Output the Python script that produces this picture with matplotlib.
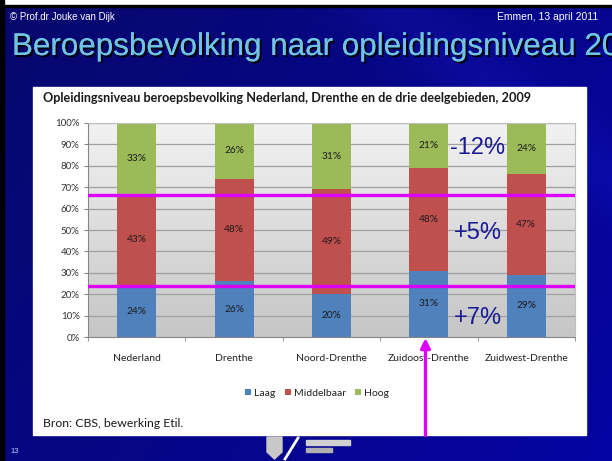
import numpy as np
import matplotlib
matplotlib.use("Agg")
import matplotlib.pyplot as plt
from matplotlib.colors import LinearSegmentedColormap, to_rgb
from matplotlib.patches import Rectangle, Polygon
import matplotlib.patheffects as pe

# ---- data ----
categories = ["Nederland", "Drenthe", "Noord-Drenthe", "Zuidoost-Drenthe", "Zuidwest-Drenthe"]
laag = [24, 26, 20, 31, 29]
middelbaar = [43, 48, 49, 48, 47]
hoog = [33, 26, 31, 21, 24]
series_names = ["Laag", "Middelbaar", "Hoog"]
yticks = list(range(0, 101, 10))
ref_lines = [66.5, 24]
annotations = [("-12%", 88.3), ("+5%", 48.6), ("+7%", 8.9)]

W, H = 612, 461
fig = plt.figure(figsize=(W / 100, H / 100), dpi=100)

# ---- slide background (pixel coordinates) ----
bg = fig.add_axes([0, 0, 1, 1])
bg.set_xlim(0, W)
bg.set_ylim(H, 0)
bg.set_axis_off()
yy, xx = np.mgrid[0:H, 0:W]
c1 = np.array(to_rgb("#08086c"))
c2 = np.array(to_rgb("#0404a4"))
t = np.clip(0.65 * xx / W + 0.35 * yy / H, 0, 1)
streak = 0.06 * np.exp(-((xx - yy * 1.3 - 380) / 60.0) ** 2)
img = c1[None, None, :] * (1 - t[..., None]) + c2[None, None, :] * t[..., None]
img = np.clip(img + streak[..., None] * np.array([0.3, 0.3, 1.0]), 0, 1)
bg.imshow(img, extent=(0, W, H, 0), aspect="auto", zorder=0)
bg.add_patch(Rectangle((0, 0), W, 5, color="white", zorder=1))
bg.add_patch(Rectangle((0, 5), W, 2, color="black", zorder=1))
bg.add_patch(Rectangle((0, 0), 4, H, color="black", zorder=1))
bg.add_patch(Rectangle((33, 87), 553, 348, color="white", zorder=1))

bg.text(10, 20, "© Prof.dr Jouke van Dijk", color="white", fontsize=7,
        family="Liberation Sans", va="baseline", ha="left", zorder=2)
bg.text(598, 20, "Emmen, 13 april 2011", color="white", fontsize=7.5,
        family="Liberation Sans", va="baseline", ha="right", zorder=2)
bg.text(12, 55, "Beroepsbevolking naar opleidingsniveau 2009", color="#70c4e2",
        fontsize=22.6, family="Liberation Sans", va="baseline", ha="left", zorder=2,
        path_effects=[pe.withSimplePatchShadow(offset=(1.5, -1.5), shadow_rgbFace="black", alpha=0.9),
                      pe.Normal()])
bg.text(10, 451, "13", color="#c8c8ff", fontsize=5.5, family="Liberation Sans",
        va="center", ha="left", zorder=2)
bg.text(43, 98, "Opleidingsniveau beroepsbevolking Nederland, Drenthe en de drie deelgebieden, 2009",
        color="#1a1a1a", fontsize=9.1, family="Lato", weight="bold", va="center", ha="left", zorder=2)
bg.text(43, 423, "Bron: CBS, bewerking Etil.", color="#1a1a1a", fontsize=8.8,
        family="Lato", va="center", ha="left", zorder=2)
# logo (approximate)
bg.add_patch(Polygon([(267, 437), (282, 437), (282, 452), (274.5, 459), (267, 452)],
                     closed=True, color="#c8c8c8", zorder=2))
bg.plot([285, 298], [459, 438], color="white", lw=2, zorder=2)
bg.add_patch(Rectangle((306, 440), 44, 5, color="#d0d0d0", zorder=2))
bg.add_patch(Rectangle((306, 448), 26, 4, color="#b0b0b0", zorder=2))

# ---- chart ----
ax = fig.add_axes([88 / W, 1 - 337 / H, 487 / W, 214 / H])
ax.set_xlim(-0.5, len(categories) - 0.5)
ax.set_ylim(0, 100)
grad = np.linspace(0, 1, 256)[:, None]
gcmap = LinearSegmentedColormap.from_list("g", ["#c6c6c6", "#f2f2f2"])
ax.imshow(grad, extent=(-0.5, len(categories) - 0.5, 0, 100), origin="lower",
          aspect="auto", cmap=gcmap, zorder=0)
for v in yticks[1:]:
    ax.axhline(v, color="#a0a0a0", lw=0.9, zorder=1)

x = np.arange(len(categories))
colors = ["#4f81bd", "#c0504d", "#9bbb59"]
bottom = np.zeros(len(categories))
handles = []
for name, vals, col in zip(series_names, [laag, middelbaar, hoog], colors):
    vals = np.array(vals, dtype=float)
    b = ax.bar(x, vals, 0.40, bottom=bottom, color=col, zorder=2, label=name)
    handles.append(b)
    for xi, v, bt in zip(x, vals, bottom):
        ax.text(xi, bt + v / 2, f"{int(v)}%", ha="center", va="center", fontsize=7.3,
                family="Lato", color="#1a1a1a", zorder=3)
    bottom += vals

for v in ref_lines:
    ax.axhline(v, color="#dd00ff", lw=2.4, zorder=4)

for txt, yv in annotations:
    ax.text(3.5, yv, txt, ha="center", va="center", fontsize=17,
            family="Liberation Sans", color="#1a1a96", zorder=5)

ax.annotate("", xy=(3 - 0.035, -0.5), xycoords="data",
            xytext=(3 - 0.035, -0.46), textcoords=("data", "axes fraction"),
            arrowprops=dict(arrowstyle="-|>", color="#dd00ff", lw=2.4, mutation_scale=14,
                            shrinkA=0, shrinkB=0),
            annotation_clip=False, zorder=6)

ax.set_yticks(yticks)
ax.set_yticklabels([f"{v}%" for v in yticks], family="Lato", fontsize=7, color="#333333")
ax.set_xticks(x)
ax.set_xticklabels(categories, family="Lato", fontsize=7.5, color="#222222")
ax.set_xticks(np.arange(-0.5, len(categories), 1), minor=True)
ax.tick_params(axis="x", which="major", length=0, pad=12)
ax.tick_params(axis="x", which="minor", length=3, color="#868686")
ax.tick_params(axis="y", length=3, color="#868686", pad=3)
for s in ["top", "right"]:
    ax.spines[s].set_color("#c0c0c0")
for s in ["left", "bottom"]:
    ax.spines[s].set_color("#868686")

fig.legend(handles=handles, labels=series_names, loc="center",
           bbox_to_anchor=(317 / W, 1 - 393 / H), ncol=3, frameon=False,
           prop={"family": "Lato", "size": 7.5}, handlelength=0.6, handleheight=0.6,
           handletextpad=0.25, columnspacing=0.9, labelcolor="#222222")

fig.savefig("out.png", dpi=100)
